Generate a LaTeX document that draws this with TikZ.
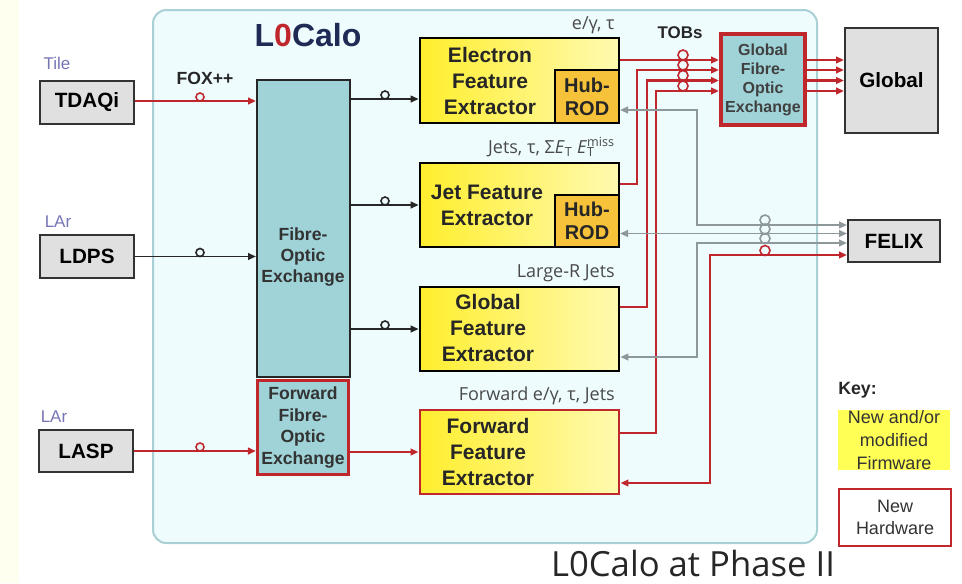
\documentclass[tikz,border=0pt]{standalone}
\usepackage{fontspec}
\setmainfont{Liberation Sans}
\newfontfamily\osans{Open Sans}
\usetikzlibrary{arrows.meta,calc}
\newdimen\pxu \pxu=0.75pt
\definecolor{tealf}{HTML}{9FD3D8}
\definecolor{redl}{HTML}{C0272D}
\definecolor{boxgray}{HTML}{E0E0E0}
\definecolor{outerfill}{HTML}{EEFCFE}
\definecolor{outerdraw}{HTML}{A9D0D4}
\definecolor{navy}{HTML}{1F2A55}
\definecolor{hubc}{HTML}{F5C23A}
\definecolor{yelA}{HTML}{FFEE2E}
\definecolor{yelB}{HTML}{FFFAB0}
\definecolor{grayl}{HTML}{8E9799}
\definecolor{lblgray}{HTML}{4A4A4A}
\definecolor{tilec}{HTML}{7676B4}
\definecolor{cream}{HTML}{FFFFF0}
\definecolor{keyyel}{HTML}{FFFF55}
\begin{document}
\begin{tikzpicture}[x=0.75pt,y=-0.75pt,
  sz/.style 2 args={minimum width=#1*\pxu, minimum height=#2*\pxu},
  gbox/.style={draw=black!80, fill=boxgray, line width=1.5pt, inner sep=0pt,
    font=\fontsize{15.5pt}{18pt}\selectfont\bfseries},
  fox/.style={draw=black!85, fill=tealf, line width=1.5pt, inner sep=0pt},
  foxtxt/.style={align=center, text=black!80, inner sep=0pt,
    font=\fontsize{13.2pt}{15.4pt}\selectfont\bfseries},
  fex/.style={draw=black, line width=2pt, left color=yelA, right color=yelB, inner sep=0pt},
  fexred/.style={draw=redl, line width=2.2pt, left color=yelA, right color=yelB, inner sep=0pt},
  fextxt/.style={align=center, text=black!85, inner sep=0pt,
    font=\fontsize{15.75pt}{19.5pt}\selectfont\bfseries},
  hub/.style={draw=black, line width=1.5pt, fill=hubc, inner sep=0pt, align=center,
    text=black!85, font=\fontsize{15pt}{17.25pt}\selectfont\bfseries},
  srclbl/.style={text=tilec, inner sep=0pt, font=\fontsize{12.75pt}{14pt}\selectfont},
  outlbl/.style={text=lblgray, inner sep=0pt, anchor=east, font=\osans\fontsize{13.5pt}{15pt}\selectfont},
  redc/.style={draw=redl, line width=1.7pt},
  blkc/.style={draw=black!85, line width=1.4pt},
  grc/.style={draw=grayl, line width=1.4pt},
  >={Triangle[length=6pt,width=5pt]},
  loopc/.style={circle, minimum size=8*\pxu, inner sep=0pt, line width=1.2pt, fill=outerfill},
  chainc/.style={circle, minimum size=10*\pxu, inner sep=0pt, line width=1.2pt}
]
\useasboundingbox (0,0) rectangle (962,583);
\fill[white] (0,0) rectangle (962,583);
\fill[cream] (0,0) rectangle (19,583);
\draw[outerdraw, fill=outerfill, line width=1.5pt, rounded corners=10pt] (153,10) rectangle (817,543);

\node[text=navy, inner sep=0pt, font=\fontsize{24pt}{26pt}\selectfont\bfseries] (title) at (308,35) {L\textcolor{redl}{0}Calo};

% sources
\node[srclbl] (tile) at (57,63) {Tile};
\node[gbox, sz={94}{43}] (tdaqi) at (87,102.5) {TDAQi};
\node[srclbl] (lar1) at (58,222) {LAr};
\node[gbox, sz={94}{43}] (ldps) at (87,256.5) {LDPS};
\node[srclbl] (lar2) at (54,417) {LAr};
\node[gbox, sz={94}{42}] (lasp) at (86,451) {LASP};
\node[inner sep=0pt, text=black!85, font=\fontsize{13.2pt}{15pt}\selectfont\bfseries] (foxpp) at (205,78) {FOX++};

% fibre optic exchanges
\node[fox, sz={93}{297}] (foe) at (303.5,228.5) {};
\node[foxtxt] (foetxt) at (303,257) {Fibre-\\Optic\\Exchange};
\node[fox, draw=redl, line width=2.4pt, sz={91}{94}, foxtxt, fill=tealf] (ffoe) at (303,427.5) {Forward\\[0.9pt]Fibre-\\[0.9pt]Optic\\[0.9pt]Exchange};

% feature extractors
\node[fex, sz={199}{85}] (efex) at (519.5,80.5) {};
\node[hub, sz={64}{53}] (hub1) at (587,96.5) {Hub-\\ROD};
\node[fextxt] (efextxt) at (490,81) {Electron\\Feature\\Extractor};

\node[fex, sz={199}{84}] (jfex) at (519.5,205) {};
\node[hub, sz={64}{52}] (hub2) at (587,221) {Hub-\\ROD};
\node[fextxt] (jfextxt) at (487,205) {Jet Feature\\Extractor};

\node[fex, sz={199}{84}] (gfex) at (519.5,329) {};
\node[fextxt] (gfextxt) at (488,328) {Global\\Feature\\Extractor};

\node[fexred, sz={199}{84}] (fwd) at (519.5,452) {};
\node[fextxt] (fwdtxt) at (488,452) {Forward\\Feature\\Extractor};

% output labels
\node[outlbl] (lab1) at (615,25) {e/γ, τ};
\node[outlbl] (lab2) at (615,147) {Jets, τ, Σ\textit{E}\textsubscript{T} \textit{E}\rlap{\textsubscript{T}}\textsuperscript{miss}\hspace{2pt}};
\node[outlbl] (lab3) at (615,273) {Large-R Jets};
\node[outlbl] (lab4) at (615,396) {Forward e/γ, τ, Jets};
\node[inner sep=0pt, text=black!85, font=\fontsize{12.7pt}{14pt}\selectfont\bfseries] (tobs) at (680,33) {TOBs};

% global fibre-optic exchange and outputs
\node[fox, draw=redl, line width=3pt, sz={84}{91}, align=center,
  font=\fontsize{12pt}{14.25pt}\selectfont\bfseries, text=black!75] (gfox) at (763,79.5) {Global\\Fibre-\\Optic\\Exchange};
\node[gbox, sz={93}{105}] (global) at (891.5,80.5) {Global};
\node[gbox, sz={92}{42}] (felix) at (894,241) {FELIX};

% levels
\coordinate (lE) at (0,99);
\coordinate (t1) at (0,60);
\coordinate (t2) at (0,70);
\coordinate (t3) at (0,80.5);
\coordinate (t4) at (0,91);
\coordinate (jr) at (0,184);
\coordinate (gr) at (0,307);
\coordinate (fr) at (0,433);
\coordinate (f1) at (0,225);
\coordinate (f2) at (0,233.5);
\coordinate (f3) at (0,243);
\coordinate (f4) at (0,255);
\coordinate (h1) at (0,110);
\coordinate (gb) at (0,357);
\coordinate (fb) at (0,483);

% inputs
\draw[redc,->] (tdaqi.east |- 0,101) -- (foe.west |- 0,101);
\draw[blkc,->] (ldps.east) -- (ldps.east -| foe.west);
\draw[redc,->] (lasp.east) -- (lasp.east -| ffoe.west);
\node[loopc, draw=redl] (c1) at (200,97) {};
\node[loopc, draw=black!85] (c2) at (200,252.5) {};
\node[loopc, draw=redl] (c3) at (200,447) {};

% FOE to FEXs
\draw[blkc,->] (foe.east |- lE) -- (efex.west |- lE);
\draw[blkc,->] (foe.east |- jfex.west) -- (jfex.west);
\draw[blkc,->] (foe.east |- gfex.west) -- (gfex.west);
\draw[redc,->] (ffoe.east |- fwd.west) -- (fwd.west);
\node[loopc, draw=black!85] (c4) at (385,95) {};
\node[loopc, draw=black!85] (c5) at (385,201) {};
\node[loopc, draw=black!85] (c6) at (385,325) {};

% TOBs to global FOX
\draw[redc,->] (efex.east |- t1) -- (gfox.west |- t1);
\draw[redc,->] (jfex.east |- jr) -- (637,184) -- (637,70) -- (gfox.west |- t2);
\draw[redc,->] (gfex.east |- gr) -- (647,307) -- (647,80.5) -- (gfox.west |- t3);
\draw[redc,->] (fwd.east |- fr) -- (656,433) -- (656,91) -- (gfox.west |- t4);
\foreach \yy/\nm in {55/ta,65/tb,75.5/tc,86/td}
  \node[chainc, draw=redl] (\nm) at (683,\yy) {};

% global FOX to Global
\foreach \lv in {t1,t2,t3,t4}
  \draw[redc,->] (gfox.east |- \lv) -- (global.west |- \lv);

% readout to FELIX
\draw[grc,<->] (hub1.east |- h1) -- (697,110) -- (697,225) -- (felix.west |- f1);
\draw[grc,<->] (hub2.east |- f2) -- (felix.west |- f2);
\draw[grc,<->] (gfex.east |- gb) -- (697,357) -- (697,243) -- (felix.west |- f3);
\draw[redc,<->] (fwd.east |- fb) -- (710,483) -- (710,255) -- (felix.west |- f4);
\node[chainc, draw=grayl] (fa) at (765,220) {};
\node[chainc, draw=grayl] (fbc) at (765,229) {};
\node[chainc, draw=grayl] (fc) at (765,238.5) {};
\node[chainc, draw=redl] (fd) at (765,250.5) {};

% key
\node[anchor=west, inner sep=0pt, text=black!85, font=\fontsize{13.3pt}{15pt}\selectfont\bfseries] (key) at (838,390) {Key:};
\node[fill=keyyel, sz={112}{60}, inner sep=0pt, align=center, text=black!80,
  font=\fontsize{13.5pt}{17pt}\selectfont] (keyfw) at (894,440) {New and/or\\modified\\Firmware};
\node[draw=redl, line width=2.2pt, fill=white, sz={112}{57}, inner sep=0pt, align=center, text=black!80,
  font=\fontsize{13.5pt}{17pt}\selectfont] (keyhw) at (895,517.5) {New\\Hardware};

\node[inner sep=0pt, text=black!85, font=\osans\fontsize{26pt}{28pt}\selectfont] (caption) at (693,563) {L0Calo at Phase II};
\end{tikzpicture}
\end{document}
